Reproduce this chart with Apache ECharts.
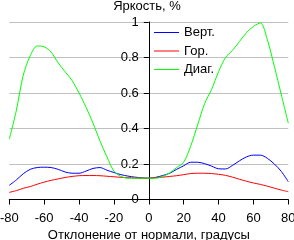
<!DOCTYPE html>
<html>
<head>
<meta charset="utf-8">
<script src="https://cdn.jsdelivr.net/npm/echarts@6/dist/echarts.min.js"></script>
<style>
  html, body { margin: 0; padding: 0; background: #fff; }
  #drawImg { width: 294px; height: 240px; }
</style>
</head>
<body>
<div id="drawImg"></div>
<script>
// углы отклонения, градусы
var angles = [-80, -76, -72, -68, -64, -60, -56, -52, -48, -44, -40, -36, -32, -28, -24, -20, -16, -12, -8, -4, 0,
  4, 8, 12, 16, 20, 24, 28, 32, 36, 40, 44, 48, 52, 56, 60, 64, 68, 72, 76, 80];
var vert = [0.08, 0.11, 0.145, 0.17, 0.18, 0.182, 0.18, 0.17, 0.155, 0.148, 0.148, 0.16, 0.175, 0.18, 0.165, 0.152, 0.14, 0.132, 0.126, 0.122, 0.12,
  0.125, 0.135, 0.148, 0.17, 0.19, 0.21, 0.21, 0.202, 0.188, 0.173, 0.172, 0.192, 0.218, 0.24, 0.25, 0.25, 0.232, 0.2, 0.158, 0.1];
var hor = [0.04, 0.05, 0.063, 0.073, 0.086, 0.098, 0.108, 0.116, 0.124, 0.13, 0.134, 0.135, 0.135, 0.134, 0.131, 0.128, 0.125, 0.123, 0.121, 0.12, 0.12,
  0.123, 0.126, 0.13, 0.134, 0.14, 0.146, 0.148, 0.148, 0.146, 0.142, 0.136, 0.126, 0.114, 0.103, 0.093, 0.085, 0.075, 0.064, 0.053, 0.044];
var diag = [0.34, 0.5, 0.7, 0.81, 0.865, 0.86, 0.83, 0.77, 0.72, 0.67, 0.6, 0.52, 0.43, 0.33, 0.24, 0.16, 0.13, 0.12, 0.12, 0.12, 0.12,
  0.12, 0.13, 0.15, 0.18, 0.21, 0.3, 0.42, 0.54, 0.62, 0.72, 0.8, 0.84, 0.89, 0.94, 0.975, 0.995, 0.9, 0.75, 0.59, 0.43];
var seriesNames = ["Верт.", "Гор.", "Диаг."];
var seriesColors = ["#0000ff", "#ff0000", "#00ff00"];

var font = "Liberation Sans, Arial, sans-serif";

function pairs(arr) {
  return angles.map(function(a, i) { return [a, arr[i]]; });
}

var seriesData = [vert, hor, diag];
var series = seriesData.map(function(arr, i) {
  return {
    name: seriesNames[i],
    type: "line",
    symbol: "none",
    smooth: 0.3,
    lineStyle: { color: seriesColors[i], width: 1 },
    itemStyle: { color: seriesColors[i] },
    data: pairs(arr)
  };
});

var gridLeft = 9.3;
var gridRight = 5.7;
var chartWidth = 294;
// ось Y стоит на нуле оси X
var zeroOffset = -((chartWidth - gridLeft - gridRight) / 2);

var option = {
  animation: false,
  title: {
    text: "Яркость, %",
    left: "center",
    top: 0,
    padding: 0,
    textStyle: { fontFamily: font, fontSize: 13, fontWeight: "normal", color: "#000" }
  },
  legend: {
    orient: "vertical",
    left: 154,
    top: 26,
    padding: 0,
    icon: "rect",
    itemWidth: 25,
    itemHeight: 1,
    itemGap: 5.5,
    data: seriesNames,
    textStyle: { fontFamily: font, fontSize: 13, color: "#000" }
  },
  grid: { left: gridLeft, right: gridRight, top: 22, bottom: 40.5, outerBoundsMode: "none", containLabel: false },
  xAxis: {
    type: "value",
    min: -80,
    max: 80,
    interval: 20,
    name: "Отклонение от нормали, градусы",
    nameLocation: "middle",
    nameGap: 25,
    nameTextStyle: { fontFamily: font, fontSize: 13, color: "#000" },
    axisLine: { onZero: false, lineStyle: { color: "#000", width: 1 } },
    axisTick: { show: true, inside: false, length: 5, lineStyle: { color: "#000" } },
    axisLabel: { margin: 12, fontFamily: font, fontSize: 13, color: "#000" },
    splitLine: { show: false }
  },
  yAxis: {
    type: "value",
    min: 0,
    max: 1,
    interval: 0.2,
    position: "left",
    offset: zeroOffset,
    axisLine: { show: true, onZero: false, lineStyle: { color: "#000", width: 1 } },
    axisTick: { show: true, inside: false, length: 5, lineStyle: { color: "#000" } },
    axisLabel: { margin: 10, fontFamily: font, fontSize: 13, color: "#000" },
    splitLine: { show: true, lineStyle: { color: "#c0c0c0", width: 1 } }
  },
  series: series
};

var chart = echarts.init(document.getElementById("drawImg"));
chart.setOption(option);
</script>
</body>
</html>
